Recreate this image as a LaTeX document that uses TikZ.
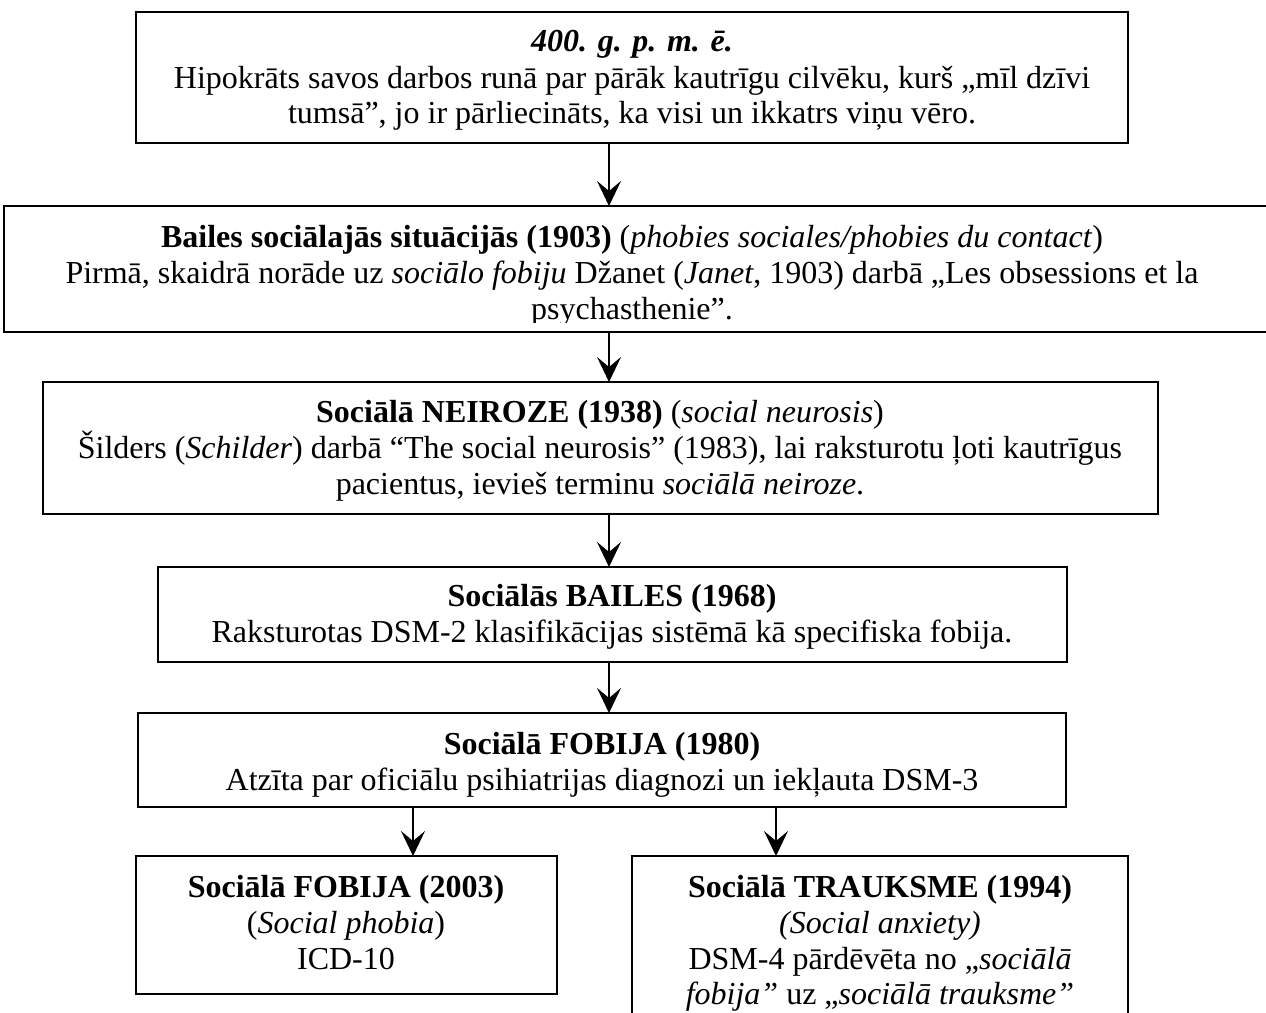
\documentclass[tikz,border=0pt]{standalone}
\usepackage{fontspec}
\setmainfont{Liberation Serif}
\usetikzlibrary{arrows.meta}
\tikzset{
  box/.style={draw=black, line width=1.8pt, fill=none, inner sep=0pt, outer sep=0pt, anchor=north west},
  txt/.style={inner sep=0pt, anchor=base, font=\fontsize{32}{36}\selectfont},
  arr/.style={line width=1.5pt, -{Stealth[length=25pt,width=24pt,inset=10pt]}}
}
\begin{document}
\begin{tikzpicture}[x=1pt,y=-1pt]
\useasboundingbox (0,0) rectangle (1266,1012);
\fill[white] (0,0) rectangle (1266,1012);
% boxes
\node[box, minimum width=992pt, minimum height=131pt] (b1) at (136,12) {};
\node[box, minimum width=1280pt, minimum height=126pt] (b2) at (4,206) {};
\node[box, minimum width=1115pt, minimum height=132pt] (b3) at (43,382) {};
\node[box, minimum width=909pt, minimum height=95pt] (b4) at (158,567) {};
\node[box, minimum width=928pt, minimum height=94pt] (b5) at (138,713) {};
\node[box, minimum width=421pt, minimum height=138pt] (b6) at (136,856) {};
\node[box, minimum width=496pt, minimum height=200pt] (b7) at (632,856) {};
% arrow columns
\coordinate (ax) at (609,0);
\coordinate (al) at (413,0);
\coordinate (ar) at (776,0);
% texts box 1
\node[txt] (t1a) at (632,51) {\textbf{\textit{400. g. p. m. ē.}}};
\node[txt] (t1b) at (632,88) {Hipokrāts savos darbos runā par pārāk kautrīgu cilvēku, kurš „mīl dzīvi};
\node[txt] (t1c) at (632,123) {tumsā”, jo ir pārliecināts, ka visi un ikkatrs viņu vēro.};
% box 2
\node[txt] (t2a) at (632,247) {\textbf{Bailes sociālajās situācijās (1903)} (\textit{phobies sociales/phobies du contact})};
\node[txt] (t2b) at (632,283) {Pirmā, skaidrā norāde uz \textit{sociālo fobiju} Džanet (\textit{Janet}, 1903) darbā „Les obsessions et la};
\begin{scope}
\clip (0,206) rectangle (1266,322);
\node[txt] (t2c) at (632,319) {psychasthenie”.};
\end{scope}
% box 3
\node[txt] (t3a) at (600,422) {\textbf{Sociālā NEIROZE (1938)} (\textit{social neurosis})};
\node[txt] (t3b) at (600,458) {Šilders (\textit{Schilder}) darbā “The social neurosis” (1983), lai raksturotu ļoti kautrīgus};
\node[txt] (t3c) at (600,494) {pacientus, ievieš terminu \textit{sociālā neiroze}.};
% box 4
\node[txt] (t4a) at (612,606) {\textbf{Sociālās BAILES (1968)}};
\node[txt] (t4b) at (612,642) {Raksturotas DSM-2 klasifikācijas sistēmā kā specifiska fobija.};
% box 5
\node[txt] (t5a) at (602,754) {\textbf{Sociālā FOBIJA (1980)}};
\node[txt] (t5b) at (602,790) {Atzīta par oficiālu psihiatrijas diagnozi un iekļauta DSM-3};
% box 6
\node[txt] (t6a) at (346,897) {\textbf{Sociālā FOBIJA (2003)}};
\node[txt] (t6b) at (346,933) {(\textit{Social phobia})};
\node[txt] (t6c) at (346,969) {ICD-10};
% box 7
\node[txt] (t7a) at (880,897) {\textbf{Sociālā TRAUKSME (1994)}};
\node[txt] (t7b) at (880,933) {\textit{(Social anxiety)}};
\node[txt] (t7c) at (880,969) {DSM-4 pārdēvēta no „\textit{sociālā}};
\node[txt] (t7d) at (880,1004) {\textit{fobija”} uz „\textit{sociālā trauksme”}};
% arrows
\draw[arr] (b1.south -| ax) -- (b2.north -| ax);
\draw[arr] (b2.south -| ax) -- (b3.north -| ax);
\draw[arr] (b3.south -| ax) -- (b4.north -| ax);
\draw[arr] (b4.south -| ax) -- (b5.north -| ax);
\draw[arr] (b5.south -| al) -- (b6.north -| al);
\draw[arr] (b5.south -| ar) -- (b7.north -| ar);
\end{tikzpicture}
\end{document}
